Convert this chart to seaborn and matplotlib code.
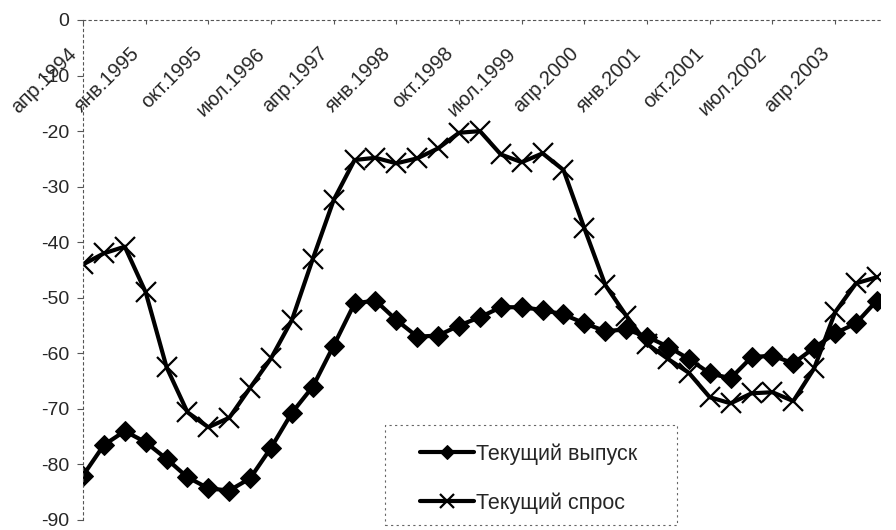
import matplotlib
matplotlib.use("Agg")
import matplotlib.pyplot as plt
import matplotlib.transforms as mtransforms
from matplotlib.patches import Rectangle
import seaborn as sns
import pandas as pd
import numpy as np

# ---- data (quarterly, апр.1994 .. окт.2003) ----
quarters = ["апр.1994", "июл.1994", "окт.1994",
            "янв.1995", "апр.1995", "июл.1995", "окт.1995",
            "янв.1996", "апр.1996", "июл.1996", "окт.1996",
            "янв.1997", "апр.1997", "июл.1997", "окт.1997",
            "янв.1998", "апр.1998", "июл.1998", "окт.1998",
            "янв.1999", "апр.1999", "июл.1999", "окт.1999",
            "янв.2000", "апр.2000", "июл.2000", "окт.2000",
            "янв.2001", "апр.2001", "июл.2001", "окт.2001",
            "янв.2002", "апр.2002", "июл.2002", "окт.2002",
            "янв.2003", "апр.2003", "июл.2003", "окт.2003"]

output_vals = [-82, -76.5, -74, -76, -79, -82.3, -84.3, -84.7, -82.5, -77,
               -70.7, -66, -58.6, -51, -50.5, -54, -57, -56.8, -55, -53.5,
               -51.7, -51.7, -52.2, -53, -54.6, -56, -55.7, -57, -58.8, -61,
               -63.6, -64.5, -60.7, -60.4, -61.8, -59, -56.4, -54.6, -50.5]

demand_vals = [-44, -42, -40.8, -49, -62.5, -70.6, -73.3, -71.6, -66.2, -60.9,
               -54, -43, -32.4, -25.2, -24.8, -25.8, -24.9, -23.1, -20.3, -20,
               -24.2, -25.6, -24, -27, -37.5, -47.7, -53.2, -58.3, -61, -63.5,
               -67.9, -69, -67.2, -67, -68.6, -62.7, -52.6, -47.4, -46.3]

tick_every = 3
yticks = [0, -10, -20, -30, -40, -50, -60, -70, -80, -90]
series_names = ["Текущий выпуск", "Текущий спрос"]

# ---- figure ----
sns.set_theme(style="white")
plt.rcParams["font.family"] = ["Liberation Sans", "DejaVu Sans"]

fig = plt.figure(figsize=(8.96, 5.30), dpi=100)
ax = fig.add_axes([83 / 896, 1 - 520 / 530, 797 / 896, 500 / 530])

idx = np.arange(len(quarters))
df = pd.DataFrame({"i": idx, "out": output_vals, "dem": demand_vals})

sns.lineplot(data=df, x="i", y="out", ax=ax, color="black", linewidth=3.0,
             marker="D", markersize=10, markeredgecolor="black",
             markerfacecolor="black", label=series_names[0])
sns.lineplot(data=df, x="i", y="dem", ax=ax, color="black", linewidth=3.0,
             marker="x", markersize=15, markeredgewidth=1.6,
             markeredgecolor="black", label=series_names[1])

ax.set_xlim(0, 38.15)
ax.set_ylim(-90, 0)
ax.set_xlabel("")
ax.set_ylabel("")

# axes / spines
for s in ["right", "top"]:
    ax.spines[s].set_visible(False)
ax.spines["bottom"].set_position(("data", 0))
for s in ["bottom", "left"]:
    ax.spines[s].set_color("#555555")
    ax.spines[s].set_linewidth(0.8)
    ax.spines[s].set_linestyle((0, (2, 3)))

ax.set_yticks(yticks)
ax.set_yticklabels([str(v) for v in yticks], fontsize=14)
ax.tick_params(axis="y", left=True, length=4, width=0.8, color="#555555",
               pad=6, direction="out")

ax.set_xticks(idx[::tick_every])
ax.set_xticklabels(quarters[::tick_every], fontsize=14.5, rotation=45,
                   ha="right", va="center", rotation_mode="anchor")
ax.tick_params(axis="x", bottom=True, length=3, width=0.8, color="#555555",
               pad=19, direction="out")
offset = mtransforms.ScaledTranslation(-9 / 100, 0, fig.dpi_scale_trans)
for lab in ax.get_xticklabels():
    lab.set_transform(lab.get_transform() + offset)

ax.grid(False)

# legend: frame drawn separately, entries placed inside
box = Rectangle((0.379, -0.01), 0.366, 0.20, transform=ax.transAxes,
                facecolor="white", edgecolor="#666666", linewidth=0.8,
                linestyle=(0, (2, 3)), clip_on=False, zorder=4)
ax.add_patch(box)
handles, labels = ax.get_legend_handles_labels()
leg = ax.legend(handles, labels, loc="center left",
                bbox_to_anchor=(0.423, 0.083),
                frameon=False, fontsize=15.5,
                handlelength=2.5, handletextpad=0.1, labelspacing=1.3,
                borderpad=0, borderaxespad=0, markerscale=0.7,
                numpoints=1)
leg.set_zorder(5)

fig.savefig("out.png", dpi=100)
